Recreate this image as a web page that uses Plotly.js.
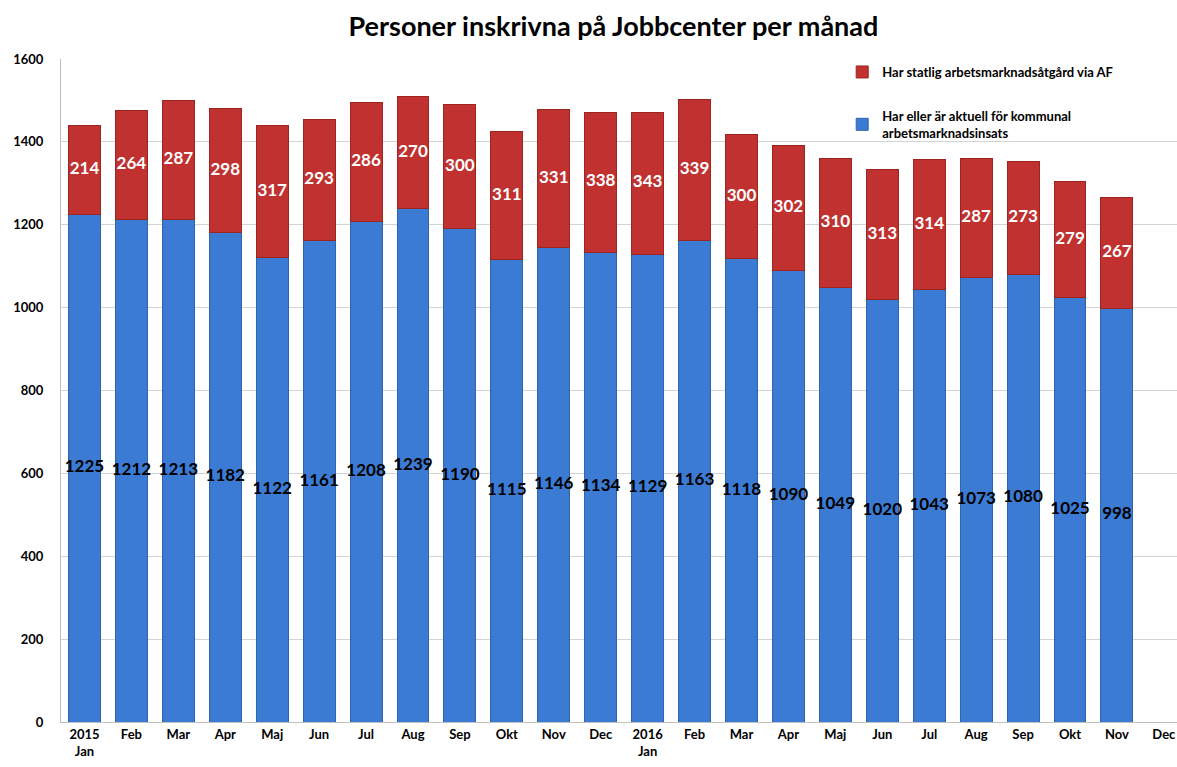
<!DOCTYPE html>
<html>
<head>
<meta charset="utf-8">
<script src="https://cdn.plot.ly/plotly-3.0.1.min.js"></script>
<style>html,body{margin:0;padding:0;background:#fff;}#chart{width:1177px;height:767px;}</style>
</head>
<body>
<div id="chart"></div>
<script>
const monthLabels = ["2015<br>Jan","Feb","Mar","Apr","Maj","Jun","Jul","Aug","Sep","Okt","Nov","Dec",
                     "2016<br>Jan","Feb","Mar","Apr","Maj","Jun","Jul","Aug","Sep","Okt","Nov","Dec"];
const kommunal = [1225,1212,1213,1182,1122,1161,1208,1239,1190,1115,1146,1134,
                  1129,1163,1118,1090,1049,1020,1043,1073,1080,1025,998,null];
const statlig = [214,264,287,298,317,293,286,270,300,311,331,338,
                 343,339,300,302,310,313,314,287,273,279,267,null];
const seriesNames = ["Har eller är aktuell för kommunal<br>arbetsmarknadsinsats",
                     "Har statlig arbetsmarknadsåtgård via AF"];
const yTicks = [0,200,400,600,800,1000,1200,1400,1600];

const xs = monthLabels.map((_, i) => i);
const FONT = "Lato, 'Open Sans', sans-serif";

const blueMid = kommunal.map(v => v == null ? null : v / 2);
const redMid = statlig.map((v, i) => v == null ? null : kommunal[i] + v / 2);

const traces = [
  {type:'bar', x:xs, y:kommunal, name:seriesNames[0], legendgroup:'a', legendrank:2,
   marker:{color:'#3b7bd4', line:{color:'#2f63ad', width:1}}, width:0.68, hoverinfo:'y'},
  {type:'bar', x:xs, y:statlig, name:seriesNames[1], legendgroup:'b', legendrank:1,
   marker:{color:'#c0312f', line:{color:'#9c2522', width:1}}, width:0.68, hoverinfo:'y'},
  {type:'scatter', mode:'text', x:xs, y:blueMid, text:kommunal.map(v => v == null ? '' : String(v)),
   textfont:{family:FONT, size:17, color:'#000', weight:'bold'}, showlegend:false, hoverinfo:'skip', cliponaxis:false},
  {type:'scatter', mode:'text', x:xs, y:redMid, text:statlig.map(v => v == null ? '' : String(v)),
   textfont:{family:FONT, size:17, color:'#fff', weight:'bold'}, showlegend:false, hoverinfo:'skip', cliponaxis:false}
];

const layout = {
  width:1177, height:767,
  margin:{l:61, r:0, t:59, b:45},
  paper_bgcolor:'#fff', plot_bgcolor:'#fff',
  barmode:'stack',
  font:{family:FONT, color:'#000'},
  title:{text:'<b>Personer inskrivna på Jobbcenter per månad</b>', x:0.495, xref:'paper', y:0.966, yanchor:'middle',
         font:{family:FONT, size:27, color:'#000'}},
  xaxis:{range:[-0.5, 23.28], tickvals:xs, ticktext:monthLabels, tickangle:0,
         tickfont:{family:FONT, size:13, color:'#000', weight:'bold'},
         showgrid:false, showline:true, linecolor:'#bfbfbf', ticks:'', fixedrange:true},
  yaxis:{range:[0,1600], tickvals:yTicks, ticktext:yTicks.map(String),
         tickfont:{family:FONT, size:13, color:'#000', weight:'bold'},
         showgrid:true, gridcolor:'#d4d4d4', gridwidth:1, zeroline:false,
         showline:true, linecolor:'#bfbfbf', ticks:'', ticklabelstandoff:14, fixedrange:true},
  legend:{x:0.7, y:1.003, xanchor:'left', yanchor:'top', traceorder:'grouped', tracegroupgap:24,
          bgcolor:'rgba(0,0,0,0)', font:{family:FONT, size:13, color:'#000', weight:'bold'},
          itemwidth:30},
  showlegend:true
};

Plotly.newPlot('chart', traces, layout, {displayModeBar:false, staticPlot:true});
</script>
</body>
</html>
